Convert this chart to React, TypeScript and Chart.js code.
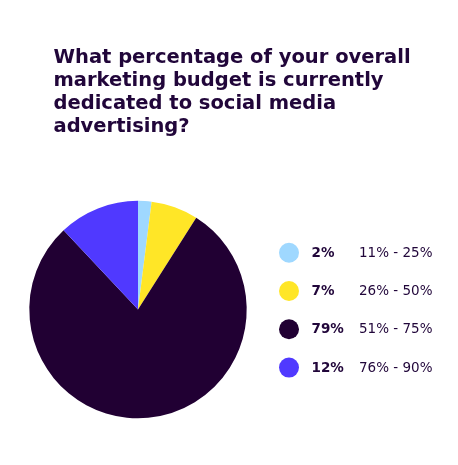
import { useEffect, useRef } from 'react';
import { Chart, PieController, ArcElement, Plugin } from 'chart.js';

Chart.register(PieController, ArcElement);

const titleLines = [
    'What percentage of your overall',
    'marketing budget is currently',
    'dedicated to social media',
    'advertising?',
];
const ranges = ['11% - 25%', '26% - 50%', '51% - 75%', '76% - 90%'];
const shares = [2, 7, 79, 12];
const sliceColors = ['#9fd8ff', '#ffe627', '#210033', '#5039ff'];

const ink = '#21063a';

// title + custom two-column legend drawn on the canvas
const textPlugin: Plugin<'pie'> = {
    id: 'textPlugin',
    afterDraw(chart) {
        const ctx = chart.ctx;
        ctx.save();
        ctx.fillStyle = ink;
        ctx.textAlign = 'left';
        ctx.textBaseline = 'alphabetic';
        ctx.font = 'bold 19.5px "DejaVu Sans", sans-serif';
        titleLines.forEach((line, i) => {
            ctx.fillText(line, 53.5, 62.5 + i * 23.2);
        });

        const data = chart.data.datasets[0].data as number[];
        const colors = chart.data.datasets[0].backgroundColor as string[];
        const labels = chart.data.labels as string[];
        data.forEach((v, i) => {
            const y = 252.7 + i * 38.3;
            ctx.beginPath();
            ctx.arc(289, y, 10, 0, Math.PI * 2);
            ctx.fillStyle = colors[i];
            ctx.fill();
            ctx.fillStyle = ink;
            ctx.textBaseline = 'middle';
            ctx.font = 'bold 13.5px "DejaVu Sans", sans-serif';
            ctx.fillText(v + '%', 311.5, y + 0.5);
            ctx.font = '13.5px "DejaVu Sans", sans-serif';
            ctx.fillText(labels[i], 359, y + 0.5);
        });
        ctx.restore();
    },
};

const App = () => {
    const chartRef = useRef<Chart<'pie'> | null>(null);
    const canvasRef = useRef<HTMLCanvasElement | null>(null);

    useEffect(() => {
        if (!canvasRef.current) return;
        if (chartRef.current) chartRef.current.destroy();
        const ctx = canvasRef.current.getContext('2d');
        if (!ctx) return;

        chartRef.current = new Chart(ctx, {
            type: 'pie',
            data: {
                labels: ranges,
                datasets: [
                    {
                        data: shares,
                        backgroundColor: sliceColors,
                        borderWidth: 0,
                    },
                ],
            },
            options: {
                animation: false,
                responsive: true,
                maintainAspectRatio: false,
                layout: {
                    padding: { left: 29.3, right: 211.3, top: 200.8, bottom: 46.8 },
                },
                plugins: {
                    legend: { display: false },
                    tooltip: { enabled: false },
                },
            },
            plugins: [textPlugin],
        });

        return () => {
            if (chartRef.current) {
                chartRef.current.destroy();
                chartRef.current = null;
            }
        };
    }, []);

    return (
        <div style={{ position: 'absolute', left: 0, top: 0, width: '458px', height: '465px', background: '#fff' }}>
            <canvas ref={canvasRef}></canvas>
        </div>
    );
};

export default App;
